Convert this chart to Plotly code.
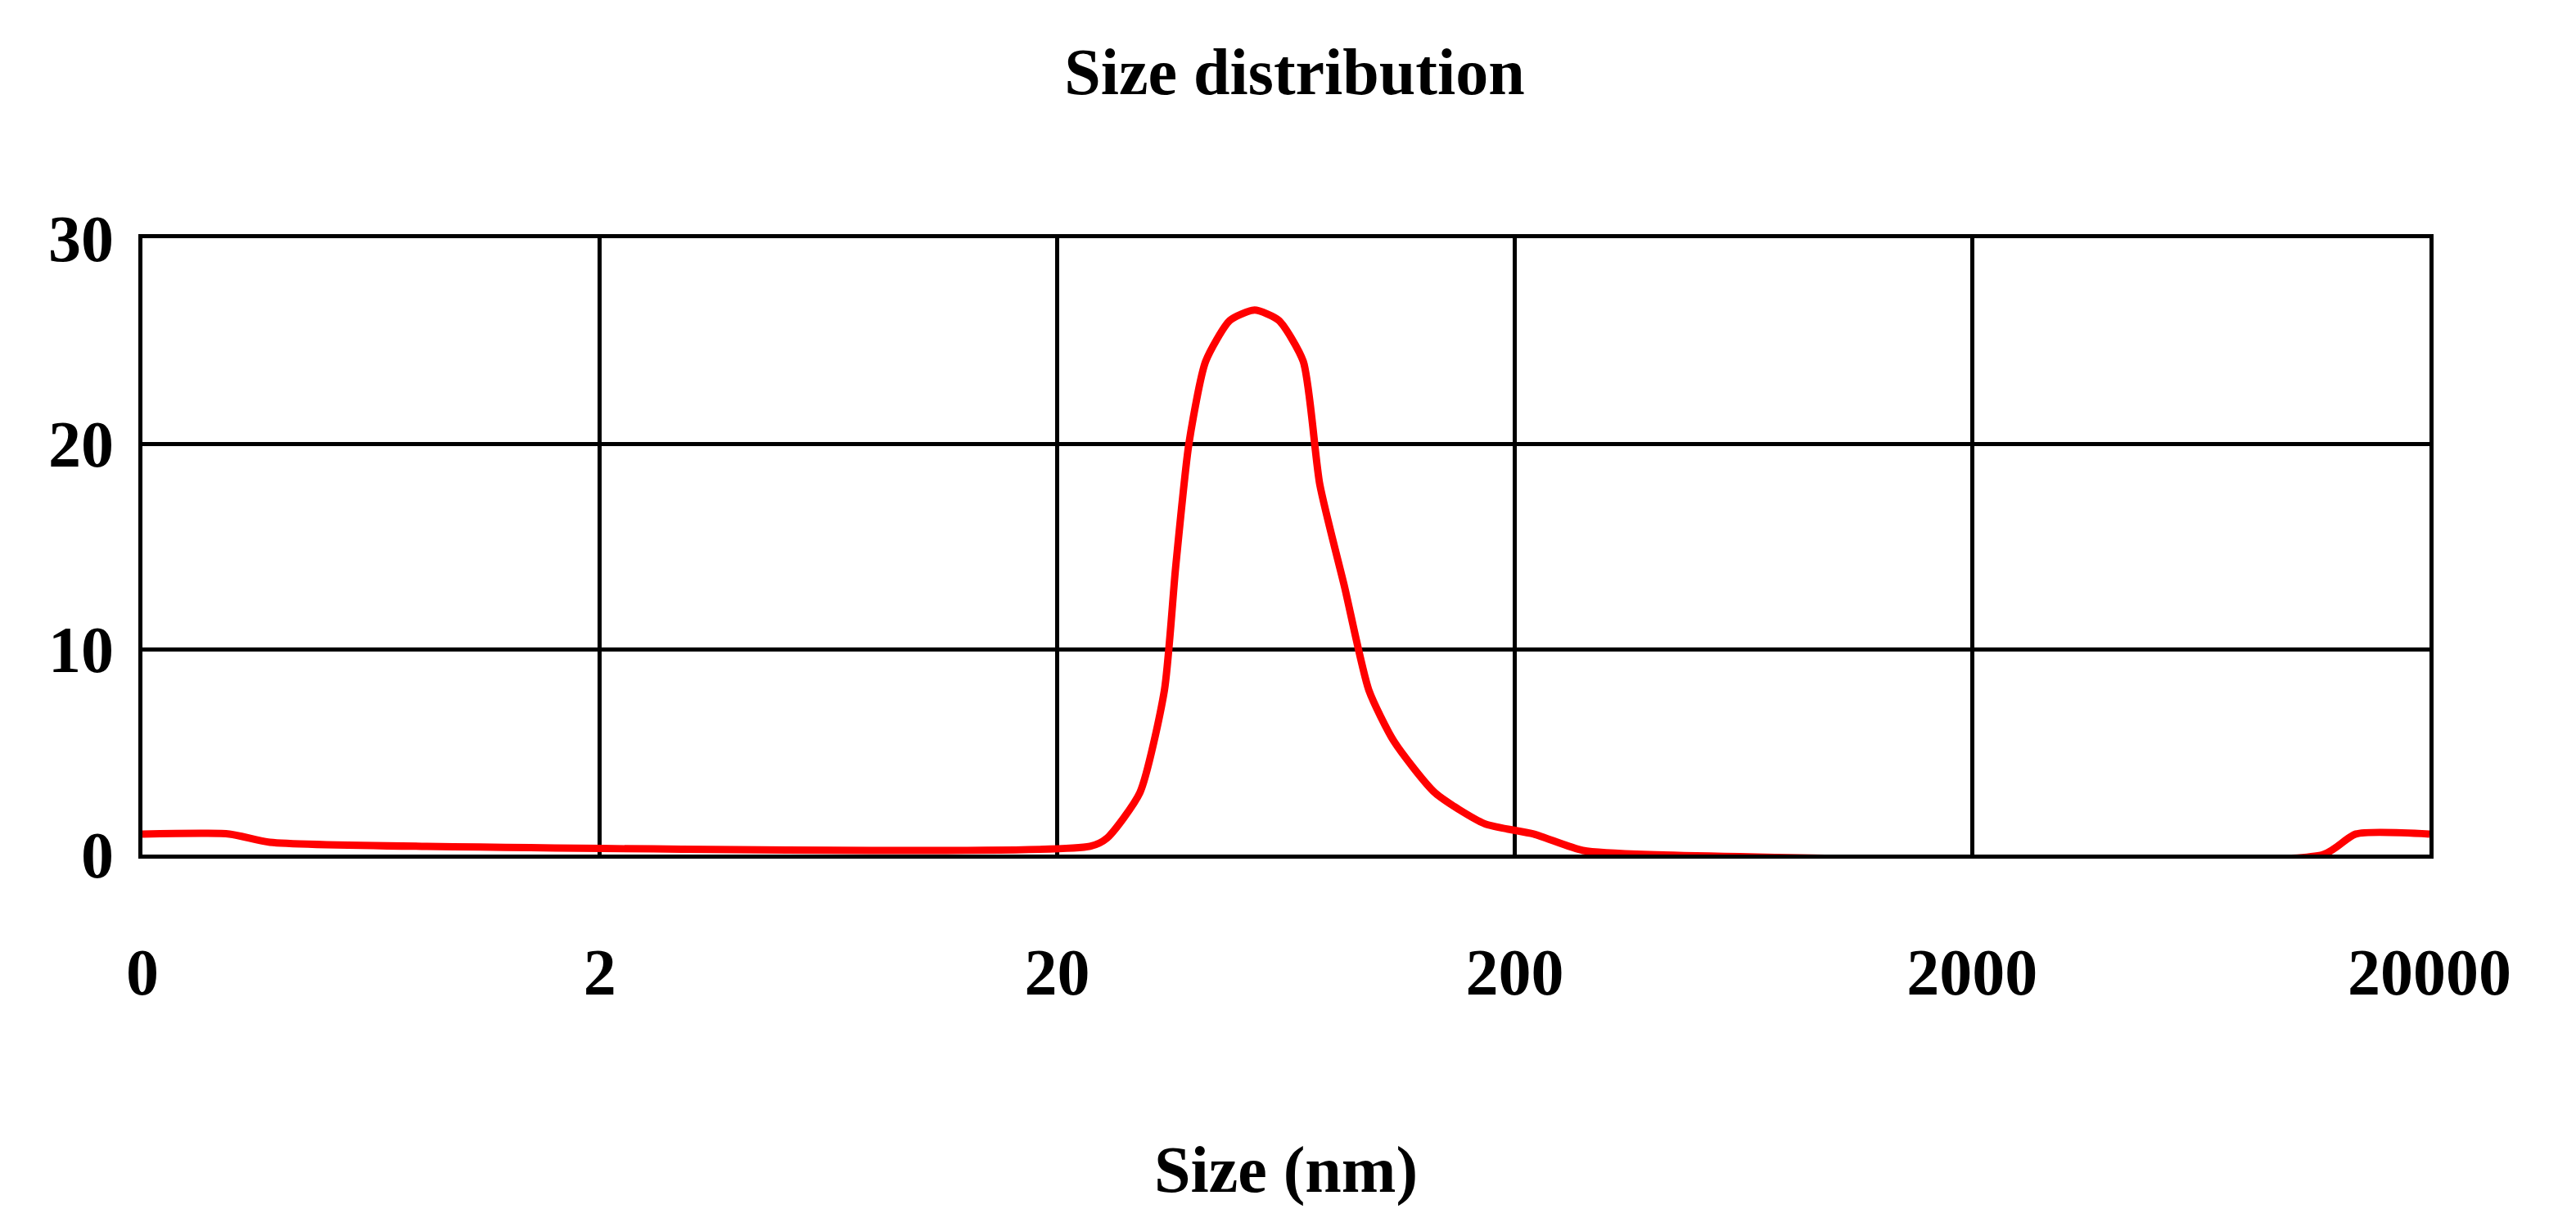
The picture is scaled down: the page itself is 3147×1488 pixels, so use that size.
import plotly.graph_objects as go

size_nm = [0.2, 0.31, 0.38, 0.83, 23.6, 25.7, 30.3, 34.3, 36.3, 38.8, 42.2, 47.7, 54, 61, 69, 75, 85, 96, 109, 134, 172, 220, 282, 394, 11700, 13800, 20000]
intensity = [1.0, 1.0, 0.6, 0.4, 0.4, 0.8, 3, 8, 14, 20, 24, 26, 26.5, 26, 24, 18, 13, 8, 5.5, 3, 1.5, 1.0, 0.2, 0.0, 0.0, 1.0, 1.0]
x_tickvals = [0.2, 2, 20, 200, 2000, 20000]
x_ticktext = ["0", "2", "20", "200", "2000", "20000"]
y_tickvals = [0, 10, 20, 30]

fs = 80
fig = go.Figure(go.Scatter(x=size_nm, y=intensity, mode="lines",
                           line=dict(color="#ff0000", width=9, shape="spline", smoothing=0.6)))
fig.update_layout(
    width=3147, height=1488, plot_bgcolor="white", paper_bgcolor="white",
    margin=dict(l=166, r=187, t=283, b=452),
    showlegend=False,
    title=dict(text="<b>Size distribution</b>", x=0.5, xanchor="center", y=0.947, yanchor="middle",
               font=dict(family="Liberation Serif", size=fs, color="black")),
)
fig.update_xaxes(type="log", range=[-0.699, 4.301], tickvals=x_tickvals, ticktext=x_ticktext,
                 showgrid=True, gridcolor="black", gridwidth=5, showline=True, linecolor="black",
                 linewidth=5, mirror=True, ticks="", ticklabelstandoff=70,
                 tickfont=dict(family="Liberation Serif", size=fs, color="black", weight="bold"),
                 title=dict(text="<b>Size (nm)</b>", standoff=170,
                            font=dict(family="Liberation Serif", size=fs, color="black")))
fig.update_yaxes(range=[0, 30], tickvals=y_tickvals, showgrid=True, gridcolor="black", gridwidth=5,
                 showline=True, linecolor="black", linewidth=5, mirror=True, ticks="",
                 zeroline=False, ticklabelstandoff=14,
                 tickfont=dict(family="Liberation Serif", size=fs, color="black", weight="bold"))
fig.write_html("out.html")
